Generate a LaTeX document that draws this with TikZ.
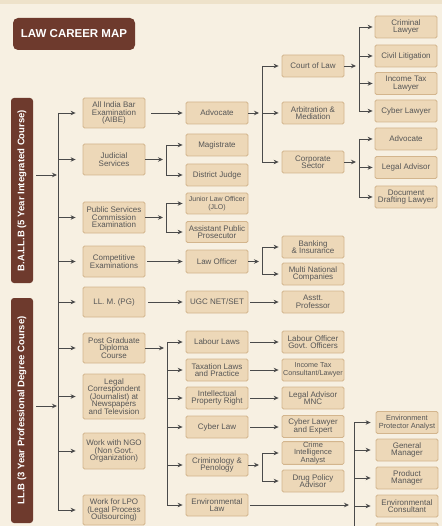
\documentclass[tikz,border=0pt]{standalone}
\usepackage{fontspec}
\setmainfont{Liberation Sans}
\usetikzlibrary{arrows.meta}
\definecolor{bg}{HTML}{F7F0E2}
\definecolor{band}{HTML}{EEE2CA}
\definecolor{boxfill}{HTML}{EDD8B8}
\definecolor{boxline}{HTML}{D3B58D}
\definecolor{brownbar}{HTML}{6E3A2D}
\definecolor{txt}{HTML}{565656}
\definecolor{ln}{HTML}{4A4A4A}
\begin{document}
\begin{tikzpicture}[x=1pt,y=-1pt,
  box/.style={draw=boxline, fill=boxfill, line width=0.8pt, rounded corners=1.5pt,
    minimum width=62pt, minimum height=22pt, inner sep=0.5pt, align=center, text=txt,
    font=\fontsize{8}{7.5}\selectfont},
  bar/.style={fill=brownbar, rounded corners=3pt, text=white, rotate=90,
    minimum height=22pt, inner sep=0pt, font=\fontsize{9.5}{10}\selectfont\bfseries},
  conn/.style={draw=ln, line width=0.85pt},
  arr/.style={conn, -{Stealth[length=5pt,width=4.5pt]}, shorten >=3pt},
]
\useasboundingbox (0,0) rectangle (442,526);
\fill[bg] (0,0) rectangle (442,526);
\fill[band] (0,0) rectangle (442,4.5);

% title and course bars
\node[fill=brownbar, rounded corners=5pt, minimum width=122pt, minimum height=32pt,
  text=white, font=\fontsize{11.5}{12}\selectfont\bfseries] (title) at (74,34) {LAW CAREER MAP};
\node[bar, minimum width=185pt] (ballb) at (22,190.5) {B.A.LL.B (5 Year Integrated Course)};
\node[bar, minimum width=225pt] (llb) at (22,410.5) {LL.B (3 Year Professional Degree Course)};

% column 1
\node[box, minimum height=30pt] (aibe) at (114,113) {All India Bar\\Examination\\(AIBE)};
\node[box, minimum height=31pt] (jud) at (114,159.5) {Judicial\\Services};
\node[box, minimum height=31pt] (psc) at (114,217.5) {Public Services\\Commission\\Examination};
\node[box, minimum height=31pt] (comp) at (114,261.5) {Competitive\\Examinations};
\node[box, minimum height=30pt] (llm) at (114,302) {LL. M. (PG)};
\node[box, minimum height=30pt] (pg) at (114,348) {Post Graduate\\Diploma\\Course};
\node[box, minimum height=45pt] (legal) at (114,396.5) {Legal\\Correspondent\\(Journalist) at\\Newspapers\\and Television};
\node[box, minimum height=36pt] (ngo) at (114,451) {Work with NGO\\(Non Govt.\\Organization)};
\node[box, minimum height=30pt] (lpo) at (114,510) {Work for LPO\\(Legal Process\\Outsourcing)};

% column 2
\node[box] (adv) at (217,113) {Advocate};
\node[box] (mag) at (217,145) {Magistrate};
\node[box] (dj) at (217,175) {District Judge};
\node[box, minimum height=21pt, font=\fontsize{7}{7.5}\selectfont] (jlo) at (217,203.5) {Junior Law Officer\\(JLO)};
\node[box, minimum height=21pt] (app) at (217,232) {Assistant Public\\Prosecutor};
\node[box, minimum height=23pt] (lo) at (217,261.5) {Law Officer};
\node[box] (ugc) at (217,302) {UGC NET/SET};
\node[box] (lab) at (217,342) {Labour Laws};
\node[box] (tax) at (217,370) {Taxation Laws\\and Practice};
\node[box] (ipr) at (217,398) {Intellectual\\Property Right};
\node[box] (cyb) at (217,427) {Cyber Law};
\node[box] (crim) at (217,465) {Criminology \&\\Penology};
\node[box] (envl) at (217,505) {Environmental\\Law};

% column 3
\node[box] (court) at (313,66) {Court of Law};
\node[box] (arb) at (313,113) {Arbitration \&\\Mediation};
\node[box] (corp) at (313,162) {Corporate\\Sector};
\node[box] (bank) at (313,247) {Banking\\\& Insurance};
\node[box] (mnc) at (313,274) {Multi National\\Companies};
\node[box] (asst) at (313,302) {Asstt.\\Professor};
\node[box] (labo) at (313,342) {Labour Officer\\Govt. Officers};
\node[box, font=\fontsize{7.2}{7.5}\selectfont] (itc) at (313,370) {Income Tax\\Consultant/Lawyer};
\node[box] (lamnc) at (313,398) {Legal Advisor\\MNC};
\node[box] (cle) at (313,426.5) {Cyber Lawyer\\and Expert};
\node[box, font=\fontsize{7.5}{6.8}\selectfont] (cia) at (313,453) {Crime\\Intelligence\\Analyst};
\node[box] (dpa) at (313,481) {Drug Policy\\Advisor};

% column 4
\node[box] (cl) at (406,27) {Criminal\\Lawyer};
\node[box] (civ) at (406,56) {Civil Litigation};
\node[box] (itl) at (406,83.5) {Income Tax\\Lawyer};
\node[box] (cybl) at (406,111) {Cyber Lawyer};
\node[box] (adv2) at (406,139) {Advocate};
\node[box] (la) at (406,167.5) {Legal Advisor};
\node[box] (ddl) at (406,197) {Document\\Drafting Lawyer};
\node[box, font=\fontsize{7.4}{7.5}\selectfont] (epa) at (407,422.5) {Environment\\Protector Analyst};
\node[box] (gm) at (407,450) {General\\Manager};
\node[box] (pm) at (407,478) {Product\\Manager};
\node[box] (ec) at (407,506) {Environmental\\Consultant};
\node[box] (more) at (407,534) {};

% trunk
\coordinate (tx) at (58,0);
\coordinate (b1) at (36,175);
\coordinate (b2) at (36,406);
\draw[conn] (tx |- aibe) -- (tx |- lpo);
\draw[arr, shorten >=1pt] (b1) -- (tx |- b1);
\draw[arr, shorten >=1pt] (b2) -- (tx |- b2);
\foreach \n in {aibe,jud,psc,comp,llm,pg,legal,ngo,lpo}
  \draw[arr, shorten >=7pt] (tx |- \n) -- (\n.west);

% column 1 -> column 2
\draw[arr, shorten <=6pt] (aibe.east) -- (adv.west);
\draw[arr, shorten <=2pt] (comp.east) -- (lo.west);
\draw[arr, shorten <=3pt] (llm.east) -- (ugc.west);
\coordinate (jx) at (166,0);
\draw[arr] (jud.east) -- (jx |- jud);
\draw[conn] (jx |- mag) -- (jx |- dj);
\foreach \n in {mag,dj} \draw[arr] (jx |- \n) -- (\n.west);
\draw[arr] (psc.east) -- (jx |- psc);
\draw[conn] (jx |- jlo) -- (jx |- app);
\foreach \n in {jlo,app} \draw[arr] (jx |- \n) -- (\n.west);
\coordinate (px) at (167,0);
\draw[arr] (pg.east) -- (px |- pg);
\draw[conn] (px |- lab) -- (px |- envl);
\foreach \n in {lab,tax,ipr,cyb,crim,envl} \draw[arr] (px |- \n) -- (\n.west);

% column 2 -> column 3
\coordinate (ax) at (262,0);
\draw[arr] (adv.east) -- (ax |- adv);
\draw[conn] (ax |- court) -- (ax |- corp);
\foreach \n in {court,arb,corp} \draw[arr] (ax |- \n) -- (\n.west);
\draw[arr] (lo.east) -- (ax |- lo);
\draw[conn] (ax |- bank) -- (ax |- mnc);
\foreach \n in {bank,mnc} \draw[arr] (ax |- \n) -- (\n.west);
\draw[arr] (crim.east) -- (ax |- crim);
\draw[conn] (ax |- cia) -- (ax |- dpa);
\foreach \n in {cia,dpa} \draw[arr] (ax |- \n) -- (\n.west);
\draw[arr, shorten <=2pt] (ugc.east) -- (asst.west);
\draw[arr, shorten <=2pt] (lab.east) -- (labo.west);
\draw[arr, shorten <=2pt] (tax.east) -- (itc.west);
\draw[arr, shorten <=2pt] (ipr.east) -- (lamnc.west);
\draw[arr, shorten <=2pt] (cyb.east) -- (cyb.east -| cle.west);

% column 3 -> column 4
\coordinate (cx) at (359,0);
\draw[arr] (court.east) -- (cx |- court);
\draw[conn] (cx |- cl) -- (cx |- cybl);
\foreach \n in {cl,civ,itl,cybl} \draw[arr, shorten >=2pt] (cx |- \n) -- (\n.west);
\draw[arr] (corp.east) -- (cx |- corp);
\draw[conn] (cx |- adv2) -- (cx |- ddl);
\foreach \n in {adv2,la,ddl} \draw[arr, shorten >=2pt] (cx |- \n) -- (\n.west);
\coordinate (ex) at (354,0);
\coordinate (eend) at (354,540);
\draw[arr, shorten <=2pt, shorten >=5pt] (envl.east) -- (ex |- envl);
\draw[conn] (ex |- epa) -- (eend);
\foreach \n in {epa,gm,pm,ec} \draw[arr, shorten >=5pt] (ex |- \n) -- (\n.west);
\end{tikzpicture}
\end{document}
